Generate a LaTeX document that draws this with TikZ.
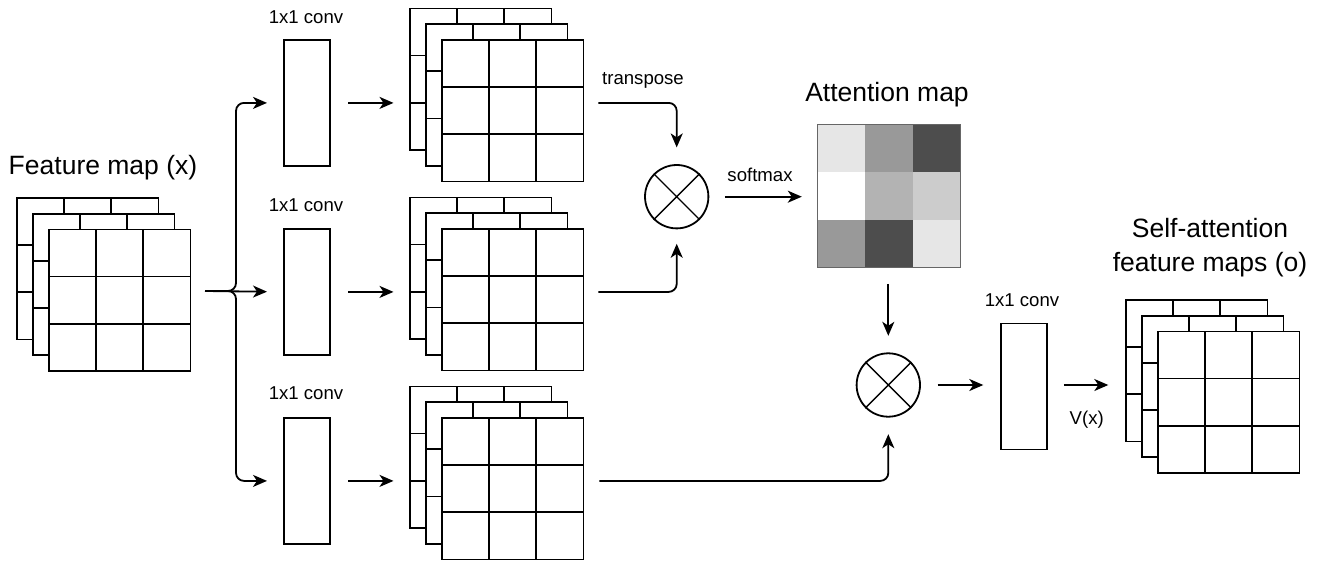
\documentclass[tikz,border=0pt]{standalone}
\usepackage{fontspec}
\setmainfont{Liberation Sans}
\usetikzlibrary{arrows.meta,calc}
\definecolor{gA}{HTML}{E6E6E6}
\definecolor{gB}{HTML}{999999}
\definecolor{gC}{HTML}{4D4D4D}
\definecolor{gD}{HTML}{FFFFFF}
\definecolor{gE}{HTML}{B3B3B3}
\definecolor{gF}{HTML}{CCCCCC}
\newcommand{\smallf}{\fontsize{18.6}{22}\selectfont}
\newcommand{\bigf}{\fontsize{26.5}{32}\selectfont}
\tikzset{
  layer/.style={draw, fill=white, minimum size=141.5pt, inner sep=0pt, anchor=north west,
    path picture={
      \foreach \f in {0.3333,0.6667} {
        \draw[line width=1.8pt] ($(path picture bounding box.north west)!\f!(path picture bounding box.north east)$) --
              ($(path picture bounding box.south west)!\f!(path picture bounding box.south east)$);
        \draw[line width=1.8pt] ($(path picture bounding box.north west)!\f!(path picture bounding box.south west)$) --
              ($(path picture bounding box.north east)!\f!(path picture bounding box.south east)$);
      }}},
  convbox/.style={draw, minimum width=46pt, minimum height=126pt, inner sep=0pt, anchor=north west},
  mult/.style={draw, circle, minimum size=63.4pt, inner sep=0pt},
  arr/.style={-{Stealth[length=14pt,width=12pt,inset=4pt]}},
  lbl/.style={font=\smallf, inner sep=0pt},
  biglbl/.style={font=\bigf, inner sep=0pt, align=center}
}
\newcommand{\fmapstack}[3]{%
  \node[layer] (#1-b) at (#2,#3) {};
  \node[layer] (#1-m) at (#2+16,#3+15.75) {};
  \node[layer] (#1) at (#2+32,#3+31.5) {};
}
\begin{document}
\begin{tikzpicture}[x=1pt,y=-1pt,line width=1.8pt]
\useasboundingbox (0,0) rectangle (1324,560);

% input feature map
\fmapstack{fm}{16}{197}
\node[biglbl] (fmlbl) at (103,168) {Feature map (x)};

% conv boxes
\node[convbox] (conv1) at (283,39) {};
\node[convbox] (conv2) at (283,228) {};
\node[convbox] (conv3) at (283,417) {};
\node[lbl] (cl1) at (306,17) {1x1 conv};
\node[lbl] (cl2) at (306,205) {1x1 conv};
\node[lbl] (cl3) at (306,393.5) {1x1 conv};

% stacks
\fmapstack{s1}{409}{7.5}
\fmapstack{s2}{409}{196.5}
\fmapstack{s3}{409}{385.5}

% branching
\coordinate (fmout) at (205,291);
\coordinate (br) at (236,291);
\draw[arr,shorten >=16pt] (fmout) -- (conv2.west);
\draw[arr,rounded corners=8pt] (fmout) -- (br) |- ([xshift=-16pt]conv1.west);
\draw[arr,rounded corners=8pt] (fmout) -- (br) |- ([xshift=-16pt]conv3.west);

% conv -> stacks
\draw[arr,shorten <=17.5pt,shorten >=15.5pt] (conv1.east) -- (s1-b.west |- conv1.east);
\draw[arr,shorten <=17.5pt,shorten >=15.5pt] (conv2.east) -- (s2-b.west |- conv2.east);
\draw[arr,shorten <=17.5pt,shorten >=15.5pt] (conv3.east) -- (s3-b.west |- conv3.east);

% first multiplication
\node[mult] (m1) at (676.7,196.7) {};
\draw[line width=1.4pt] (m1.45) -- (m1.225) (m1.135) -- (m1.315);
\draw[arr,rounded corners=8pt,shorten >=16.7pt] ([xshift=14pt]s1.east |- conv1.east) -| (m1.north);
\draw[arr,rounded corners=8pt,shorten >=14.5pt] ([xshift=14pt]s2.east |- conv2.east) -| (m1.south);
\node[lbl] (tr) at (643,80) {transpose};

% attention map
\fill[gA] (817.3,124.3) rectangle ++(47.7,47.7);
\fill[gB] (865,124.3) rectangle ++(47.7,47.7);
\fill[gC] (912.7,124.3) rectangle ++(47.7,47.7);
\fill[gD] (817.3,172) rectangle ++(47.7,47.7);
\fill[gE] (865,172) rectangle ++(47.7,47.7);
\fill[gF] (912.7,172) rectangle ++(47.7,47.7);
\fill[gB] (817.3,219.7) rectangle ++(47.7,47.7);
\fill[gC] (865,219.7) rectangle ++(47.7,47.7);
\fill[gA] (912.7,219.7) rectangle ++(47.7,47.7);
\node[draw=black!60,line width=0.9pt,minimum size=143.1pt,inner sep=0pt,anchor=north west] (att) at (817.3,124.3) {};
\node[biglbl] (attlbl) at (887,95) {Attention map};
\draw[arr,shorten <=15.6pt,shorten >=15.5pt] (m1.east) -- (att.west |- m1.east);
\node[lbl] (sm) at (760,175) {softmax};

% second multiplication
\node[mult] (m2) at (888.3,385) {};
\draw[line width=1.4pt] (m2.45) -- (m2.225) (m2.135) -- (m2.315);
\draw[arr,shorten <=15.6pt,shorten >=16.6pt] (att.south -| m2.north) -- (m2.north);
\draw[arr,rounded corners=8pt,shorten >=16.6pt] ([xshift=15pt]s3.east |- conv3.east) -| (m2.south);

% final conv and output
\node[convbox] (conv4) at (1000,322.5) {};
\node[lbl] (cl4) at (1022,300) {1x1 conv};
\draw[arr,shorten <=16.7pt,shorten >=16.7pt] (m2.east) -- (conv4.west |- m2.east);
\fmapstack{out}{1125}{299}
\draw[arr,shorten <=16pt,shorten >=16.7pt] (conv4.east |- m2.east) -- (out-b.west |- m2.east);
\node[lbl] (vx) at (1086.7,420) {V(x)};
\node[biglbl] (outlbl1) at (1210,228.3) {Self-attention};
\node[biglbl] (outlbl2) at (1210,265) {feature maps (o)};
\end{tikzpicture}
\end{document}
